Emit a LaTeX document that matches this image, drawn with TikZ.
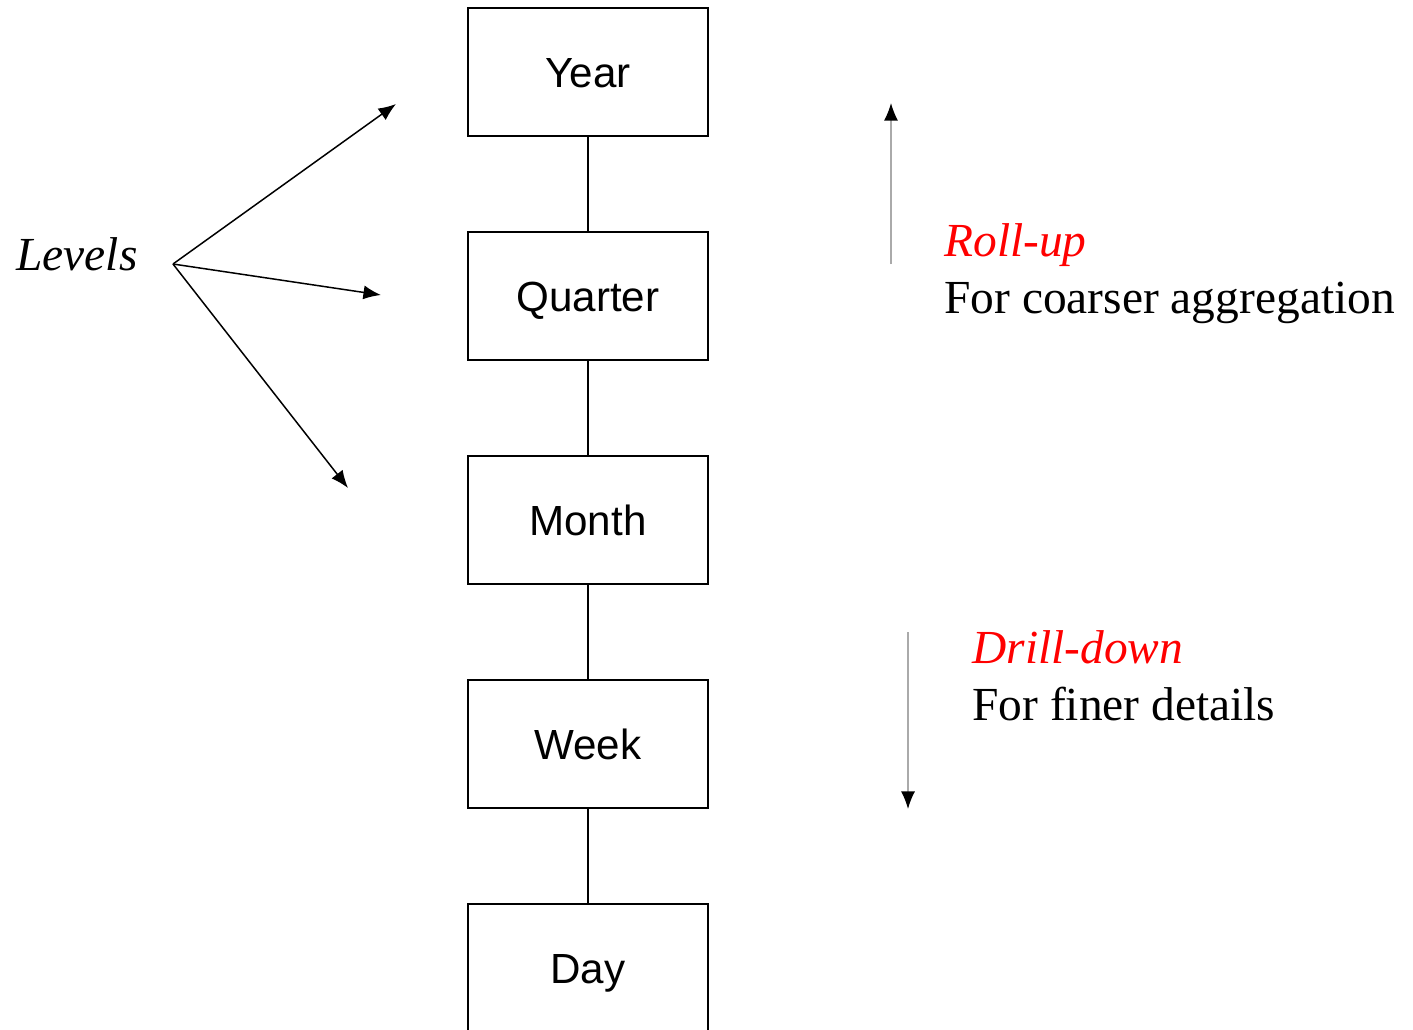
\documentclass[tikz,border=0pt]{standalone}
\usepackage{fontspec}
\setmainfont{Liberation Serif}
\setsansfont{Liberation Sans}
\usetikzlibrary{arrows.meta}
\tikzset{
  levelbox/.style={draw, line width=1.1pt, minimum width=4.8cm, minimum height=2.56cm,
    inner sep=0pt, text height=17.2pt, text depth=0pt, font=\sffamily\fontsize{24}{28}\selectfont},
  link/.style={line width=1.1pt},
  pointer/.style={line width=0.85pt, -{Latex[length=10pt,width=8pt]}},
  dirarrow/.style={line width=0.85pt, draw={rgb,255:red,170;green,170;blue,170},
    -{Latex[length=10pt,width=8pt,color=black]}},
  serif/.style={font=\rmfamily\fontsize{27}{32}\selectfont, inner sep=0pt, anchor=base west},
  redlabel/.style={serif, font=\rmfamily\itshape\fontsize{27}{32}\selectfont, text={rgb,255:red,255;green,0;blue,0}}
}
\begin{document}
\begin{tikzpicture}[x=0.02cm, y=-0.02cm]
\useasboundingbox (0,0) rectangle (1413,1029);
\clip (0,0) rectangle (1413,1029);
\fill[white] (0,0) rectangle (1413,1029);
% level boxes
\node[levelbox] (year) at (588,72) {Year};
\node[levelbox] (quarter) at (588,296) {Quarter};
\node[levelbox] (month) at (588,520) {Month};
\node[levelbox] (week) at (588,744) {Week};
\node[levelbox] (day) at (588,968) {Day};
\draw[link] (year) -- (quarter);
\draw[link] (quarter) -- (month);
\draw[link] (month) -- (week);
\draw[link] (week) -- (day);
% Levels label and pointers
\node[serif, font=\rmfamily\itshape\fontsize{27}{32}\selectfont] (levels) at (16,270) {Levels};
\coordinate (lv) at (173,264);
\coordinate (p1) at (396,104);
\coordinate (p2) at (381,295);
\coordinate (p3) at (348,488);
\draw[pointer] (lv) -- (p1);
\draw[pointer] (lv) -- (p2);
\draw[pointer] (lv) -- (p3);
% Roll-up
\coordinate (ru0) at (891,264);
\coordinate (ru1) at (891,103);
\draw[dirarrow] (ru0) -- (ru1);
\node[redlabel] (rollup) at (944,256) {Roll-up};
\node[serif] (coarser) at (944,313) {For coarser aggregation};
% Drill-down
\coordinate (dd0) at (908,632);
\coordinate (dd1) at (908,809);
\draw[dirarrow] (dd0) -- (dd1);
\node[redlabel] (drill) at (972,663) {Drill-down};
\node[serif] (finer) at (972,720) {For finer details};
\end{tikzpicture}
\end{document}
